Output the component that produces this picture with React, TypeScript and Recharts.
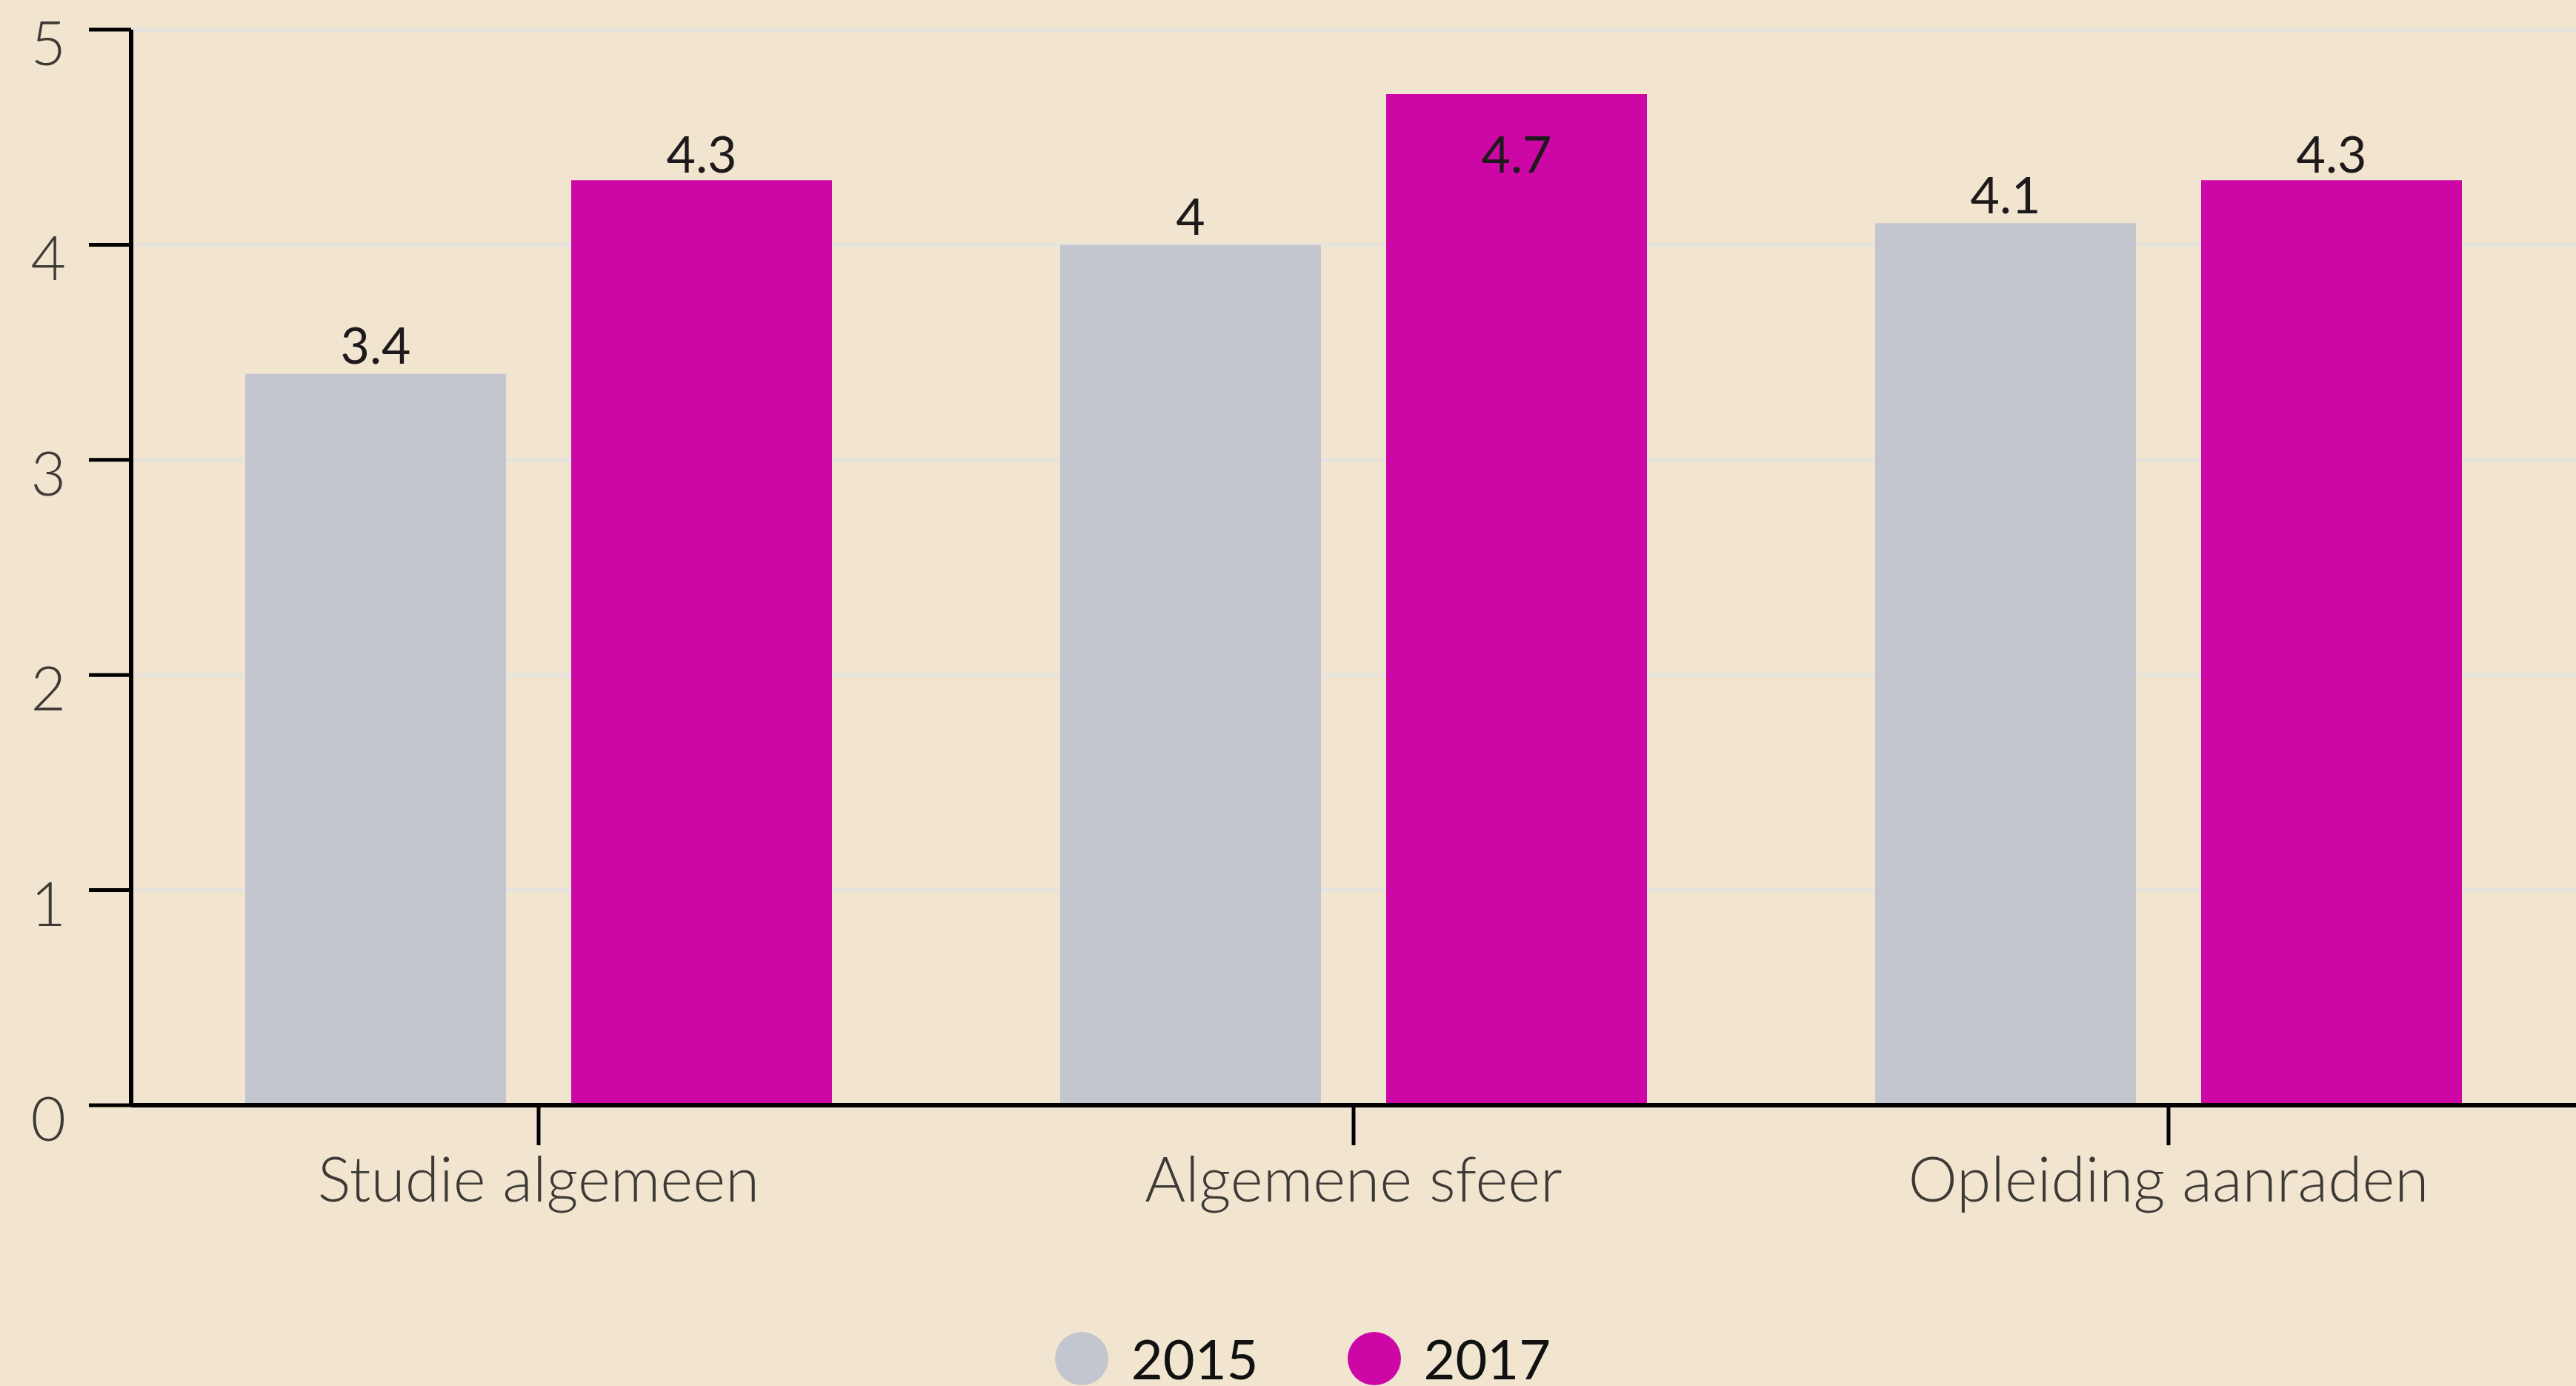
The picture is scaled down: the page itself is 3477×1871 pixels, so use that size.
import { BarChart, Bar, XAxis, YAxis, CartesianGrid, Legend, LabelList } from "recharts";

const CATEGORIES = ["Studie algemeen", "Algemene sfeer", "Opleiding aanraden"];
const VALUES_2015 = [3.4, 4, 4.1];
const VALUES_2017 = [4.3, 4.7, 4.3];
const Y_TICKS = [0, 1, 2, 3, 4, 5];

const SERIES = [
  { key: "y2015", label: "2015", color: "#C3C6CF" },
  { key: "y2017", label: "2017", color: "#CD07A6" },
];

const data = CATEGORIES.map((name, i) => ({
  name,
  y2015: VALUES_2015[i],
  y2017: VALUES_2017[i],
}));

const FONT = "Lato, 'Open Sans', sans-serif";
// labels never go higher than this, so the tallest one sits inside its bar
const LABEL_MIN_Y = 206;

const YTick = (props: any) => {
  const { x, y, payload } = props;
  return (
    <text x={x} y={y} dy={16} textAnchor="end" dominantBaseline="central" fill="#3d3a36" fontSize={82} fontWeight={300} fontFamily={FONT}>
      {payload.value}
    </text>
  );
};

const BarValue = (props: any) => {
  const { x, y, width, value } = props;
  const cy = Math.max(y - 40, LABEL_MIN_Y);
  return (
    <text x={x + width / 2} y={cy} textAnchor="middle" dominantBaseline="central" fill="#1e1a1c" fontSize={68} fontFamily={FONT}>
      {value}
    </text>
  );
};

const LegendContent = () => (
  <div style={{ display: "flex", justifyContent: "center", alignItems: "center", height: 74, gap: 120, fontFamily: FONT, paddingLeft: 40 }}>
    {SERIES.map((s) => (
      <div key={s.key} style={{ display: "flex", alignItems: "center", gap: 31 }}>
        <span style={{ width: 72, height: 72, borderRadius: "50%", background: s.color, display: "inline-block" }} />
        <span style={{ fontSize: 74, color: "#111", lineHeight: "74px" }}>{s.label}</span>
      </div>
    ))}
  </div>
);

export default function App() {
  return (
    <div style={{ width: 3477, height: 1871, background: "#F1E5D0", overflow: "hidden" }}>
      <style>{`body{margin:0}`}</style>
      <BarChart
        width={3477}
        height={1871}
        data={data}
        margin={{ top: 40, right: 0, bottom: 0, left: 0 }}
        barCategoryGap={154}
        barGap={88}
      >
        <CartesianGrid vertical={false} stroke="#E6E3DE" strokeWidth={5} />
        <XAxis
          dataKey="name"
          height={305}
          axisLine={{ stroke: "#000", strokeWidth: 6 }}
          tickLine={{ stroke: "#000", strokeWidth: 5 }}
          tickSize={54}
          tickMargin={16}
          tick={{ fill: "#3d3a36", fontSize: 84, fontWeight: 300, fontFamily: FONT }}
        />
        <YAxis
          domain={[0, 5]}
          ticks={Y_TICKS}
          width={177}
          axisLine={{ stroke: "#000", strokeWidth: 6 }}
          tickLine={{ stroke: "#000", strokeWidth: 5 }}
          tickSize={57}
          tickMargin={31}
          tick={<YTick />}
        />
        <Legend verticalAlign="bottom" content={<LegendContent />} />
        {SERIES.map((s) => (
          <Bar key={s.key} dataKey={s.key} name={s.label} fill={s.color} isAnimationActive={false}>
            <LabelList dataKey={s.key} content={<BarValue />} />
          </Bar>
        ))}
      </BarChart>
    </div>
  );
}
